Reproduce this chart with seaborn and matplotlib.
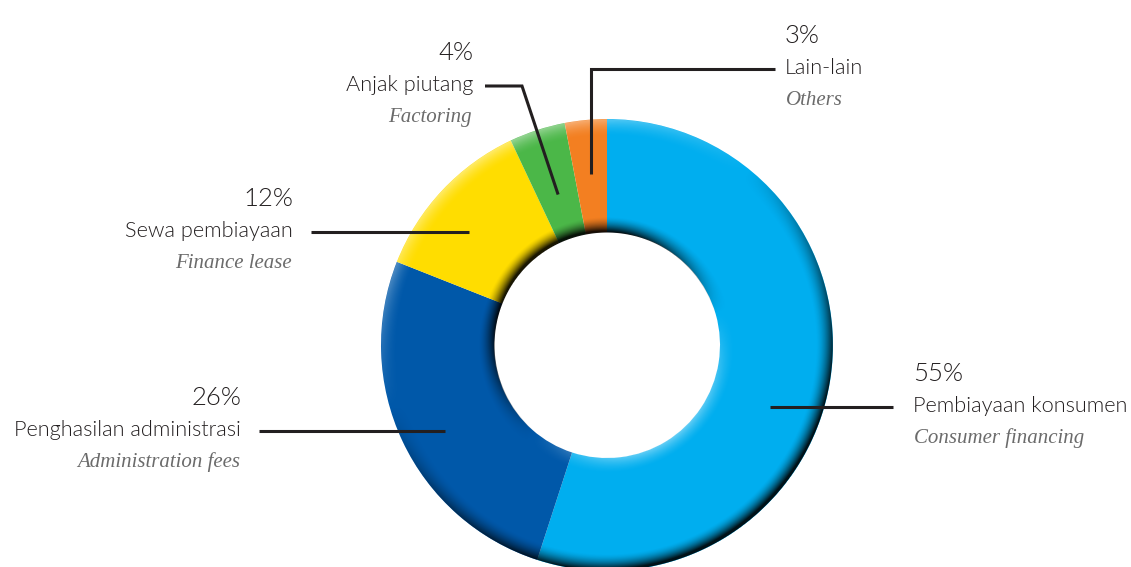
import numpy as np
import matplotlib
matplotlib.use("Agg")
import matplotlib.pyplot as plt
import seaborn as sns

# Revenue composition
names_id = ["Pembiayaan konsumen", "Penghasilan administrasi", "Sewa pembiayaan",
            "Anjak piutang", "Lain-lain"]
names_en = ["Consumer financing", "Administration fees", "Finance lease",
            "Factoring", "Others"]
shares = [55, 26, 12, 4, 3]
pct_labels = ["55%", "26%", "12%", "4%", "3%"]
colors = ["#00aeef", "#0058a9", "#ffdd00", "#4bb748", "#f37f21"]

sns.set_theme(style="white")
plt.rcParams["font.family"] = ["Lato", "DejaVu Sans"]

W, H = 1131, 567
fig = plt.figure(figsize=(W / 100, H / 100), dpi=100)
ax = fig.add_axes([0, 0, 1, 1])

cx, cy = 607, H - 345
R = 226
r_in = R * 0.5

wedges, _ = ax.pie(shares, colors=colors, startangle=90, counterclock=False,
                   radius=R, center=(cx, cy), frame=True,
                   wedgeprops=dict(width=R - r_in, linewidth=0, antialiased=True))

# bevel shading over the ring (light from upper left)
n = 2 * R + 4
xs = np.linspace(cx - R - 2, cx + R + 2, n)
ys = np.linspace(cy - R - 2, cy + R + 2, n)
X, Y = np.meshgrid(xs, ys)
dx, dy = X - cx, Y - cy
r = np.hypot(dx, dy) + 1e-9
t = (r - r_in) / (R - r_in)
L = np.array([-0.55, 0.83])
lam = (dx * L[0] + dy * L[1]) / r
b_out, b_in = 0.15, 0.14
s_out = np.clip((t - (1 - b_out)) / b_out, 0, 1) ** 1.7
s_in = np.clip((b_in - t) / b_in, 0, 1) ** 1.6
v = s_out * lam - s_in * lam - 0.3 * (s_out + s_in)
rgba = np.zeros((n, n, 4))
dark = v < 0
rgba[..., 3] = np.where(dark, np.clip(-v * 0.9, 0, 0.9), np.clip(v * 0.6, 0, 0.6))
rgba[~dark, 0:3] = 1.0
edge = np.clip(np.minimum(r - r_in, R - r) + 0.8, 0, 1)
rgba[..., 3] *= edge
ax.imshow(rgba, extent=(xs[0], xs[-1], ys[0], ys[-1]), origin="lower",
          interpolation="bilinear", zorder=3)

# label layout: anchor x, alignment, leader y (pixels from top), leader radius factor
layout = [
    dict(x=913, ha="left", line_y=407, f=0.77),
    dict(x=241, ha="right", line_y=431, f=0.81),
    dict(x=293, ha="right", line_y=232, f=0.79),
    dict(x=473, ha="right", line_y=86, f=0.70),
    dict(x=785, ha="left", line_y=69, f=0.76),
]

ink = "#231f20"
lw = 2.2
for i, (w, lay) in enumerate(zip(wedges, layout)):
    mid = np.deg2rad((w.theta1 + w.theta2) / 2)
    ly = H - lay["line_y"]
    rr = lay["f"] * R
    sign = 1 if lay["ha"] == "left" else -1
    gap = 20 if lay["ha"] == "left" else 18
    start_x = lay["x"] - sign * gap
    if i in (0, 1, 2):
        ex = cx + sign * np.sqrt(rr ** 2 - (ly - cy) ** 2)
        ax.plot([start_x, ex], [ly, ly], color=ink, lw=lw, zorder=4,
                solid_capstyle="butt")
    elif i == 3:
        px, py = cx + rr * np.cos(mid), cy + rr * np.sin(mid)
        ax.plot([lay["x"] + 12, lay["x"] + 49, px], [ly, ly, py], color=ink,
                lw=lw, zorder=4, solid_capstyle="butt", solid_joinstyle="miter")
    else:
        px, py = cx + rr * np.cos(mid), cy + rr * np.sin(mid)
        ax.plot([lay["x"] - 10, px, px], [ly, ly, py], color=ink, lw=lw,
                zorder=4, solid_capstyle="butt", solid_joinstyle="miter")

    base = ly - 5
    ax.text(lay["x"], base + 31, pct_labels[i], ha=lay["ha"], va="baseline",
            fontsize=18.5, fontweight=300, color=ink)
    ax.text(lay["x"], base, names_id[i], ha=lay["ha"], va="baseline",
            fontsize=15.7, fontweight=300, color=ink)
    ax.text(lay["x"] + sign * 1, base - 31, names_en[i], ha=lay["ha"],
            va="baseline", fontsize=15, style="italic",
            family=["Liberation Serif", "DejaVu Serif"], color="#6b6b6b")

ax.set_xlim(0, W)
ax.set_ylim(0, H)
ax.set_aspect("equal")
ax.axis("off")

fig.savefig("out.png", dpi=100, facecolor="white")
